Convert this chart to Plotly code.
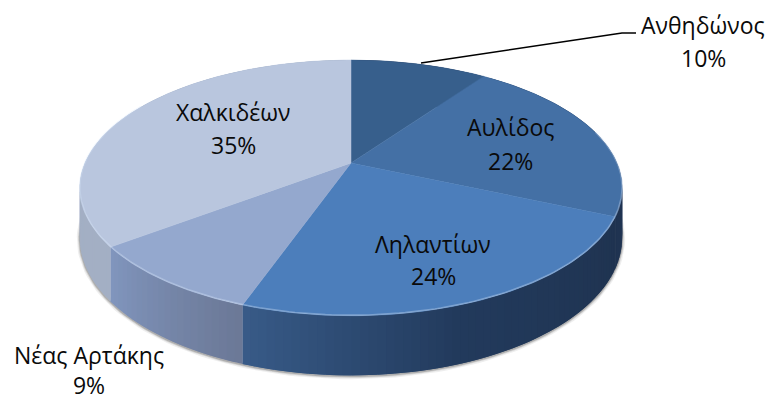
import math
import plotly.graph_objects as go

categories = ["Ανθηδώνος", "Αυλίδος", "Ληλαντίων", "Νέας Αρτάκης", "Χαλκιδέων"]
values = [9.8, 21.8, 23.8, 9.3, 35.3]
top_colors = ["#375F8C", "#4470A5", "#4C7EBB", "#94A8CE", "#B9C6DE"]
# wall gradient stops per slice: (fraction within slice, colour)
wall_stops = [
    [(0, "#2B4468"), (1, "#2B4468")],
    [(0, "#2A4468"), (1, "#1F3350")],
    [(0, "#1F3350"), (0.55, "#223A5C"), (1, "#385B88")],
    [(0, "#6B7896"), (1, "#8196BE")],
    [(0, "#A3AFC4"), (1, "#A3AFC4")],
]
label_pos = [(703, 25, 58), (510, 127, 161), (433, 244, 276), (89, 369.5, None), (233, 112, 145)]
leader_x = [421, 622, 636]
leader_y = [63, 33, 33]

CX, CY, A, B, K, DEPTH = 351, 163, 266, 123, 0.195, 48


def project(t):
    X, Y = math.sin(t), -math.cos(t)
    w = 1 - K * Y
    return CX + A * X / w, CY + B * Y / w, DEPTH / w


def hex2rgb(h):
    return [int(h[i:i + 2], 16) for i in (1, 3, 5)]


def grad(stops, f):
    for (f0, c0), (f1, c1) in zip(stops, stops[1:]):
        if f <= f1:
            u = (f - f0) / (f1 - f0)
            a, b = hex2rgb(c0), hex2rgb(c1)
            return "rgb(%d,%d,%d)" % tuple(round(p + (q - p) * u) for p, q in zip(a, b))
    return stops[-1][1]


total = sum(values)
edges = [0]
for v in values:
    edges.append(edges[-1] + v / total * 2 * math.pi)

fig = go.Figure()


def add(xs, ys, **kw):
    fig.add_trace(go.Scatter(x=xs, y=ys, mode=kw.pop("mode", "lines"), hoverinfo="skip", showlegend=False, **kw))


def arc(t0, t1, n):
    return [t0 + (t1 - t0) * i / n for i in range(n + 1)]


# soft shadow under the body
ts = arc(math.radians(88), math.radians(272), 120)
pts = [project(t) for t in ts]
for width, alpha in ((6, 0.10), (3.5, 0.18), (1.8, 0.30)):
    add([p[0] for p in pts], [p[1] + p[2] + 0.8 for p in pts],
        line=dict(color=f"rgba(90,90,90,{alpha})", width=width))

# walls: each strip overlaps the following one so no seams show
for i in range(len(values)):
    n = max(6, int((edges[i + 1] - edges[i]) / math.radians(1.5)))
    seg = arc(edges[i], edges[i + 1], n)
    for j in range(n):
        p = project(seg[j])
        q = project(seg[min(j + 2, n)])
        c = grad(wall_stops[i], (j + 0.5) / n)
        add([p[0], q[0], q[0], p[0], p[0]],
            [p[1], q[1], q[1] + q[2], p[1] + p[2], p[1]],
            fill="toself", fillcolor=c, line=dict(width=0))

# top faces
for i in range(len(values)):
    seg = arc(edges[i], edges[i + 1], 120)
    pts = [project(t) for t in seg]
    add([CX] + [p[0] for p in pts] + [CX], [CY] + [p[1] for p in pts] + [CY],
        fill="toself", fillcolor=top_colors[i], line=dict(color=top_colors[i], width=0.5))

# bevel highlight on the front rim
for i in range(len(values)):
    t0, t1 = max(edges[i], math.radians(75)), min(edges[i + 1], math.radians(300))
    if t1 <= t0:
        continue
    pts = [project(t) for t in arc(t0, t1, 80)]
    add([p[0] for p in pts], [p[1] - 0.6 for p in pts],
        line=dict(color="rgba(215,230,250,0.35)", width=1.6))

# leader line
add(leader_x, leader_y, line=dict(color="#000000", width=1.6))

font = dict(family="Open Sans", size=23, color="#0a0a0a")
for name, v, (x, y1, y2) in zip(categories, values, label_pos):
    if y2 is None:
        fig.add_annotation(x=x, y=y1, xref="x", yref="y", showarrow=False, align="center",
                           text=f"{name}<br>{round(v)}%", font=font)
    else:
        for txt, y in ((name, y1), (f"{round(v)}%", y2)):
            fig.add_annotation(x=x, y=y, xref="x", yref="y", showarrow=False, text=txt, font=font)

fig.update_layout(
    width=768, height=401, margin=dict(l=0, r=0, t=0, b=0),
    paper_bgcolor="white", plot_bgcolor="white", showlegend=False,
    xaxis=dict(range=[0, 768], visible=False, fixedrange=True),
    yaxis=dict(range=[401, 0], visible=False, fixedrange=True),
)
fig.write_html("out.html", config={"displayModeBar": False},
               post_script="document.body.style.margin='0';document.body.style.overflow='hidden';")
